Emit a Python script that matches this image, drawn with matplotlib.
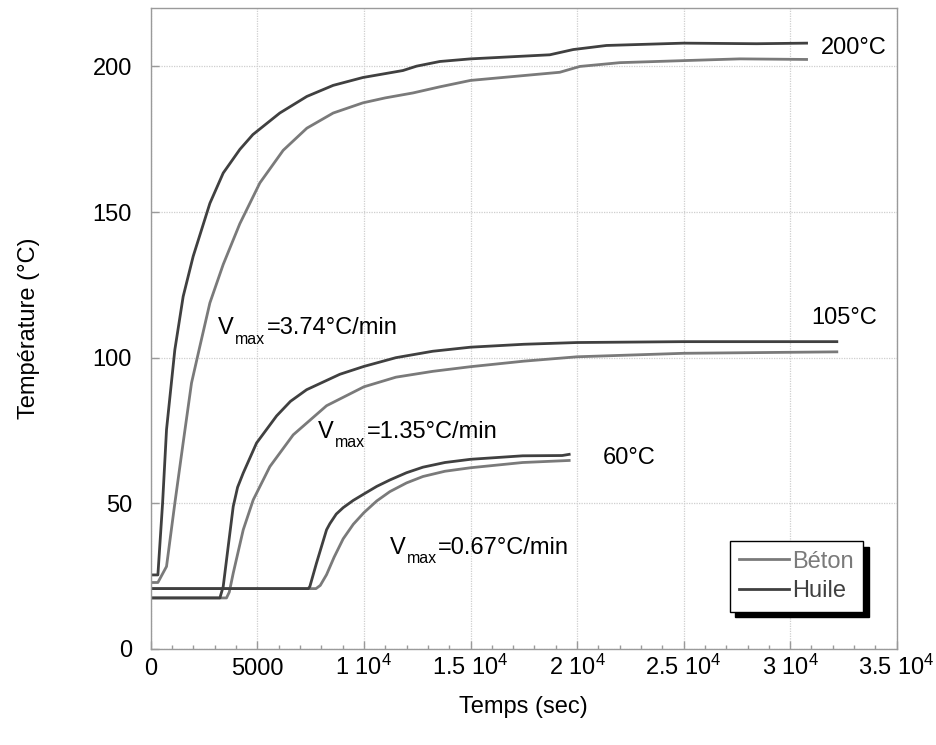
import matplotlib
matplotlib.use("Agg")
import matplotlib.pyplot as plt
from matplotlib.ticker import MultipleLocator, FixedLocator

plt.rcParams['font.family'] = ['Liberation Sans', 'DejaVu Sans']
plt.rcParams['mathtext.fontset'] = 'custom'
plt.rcParams['mathtext.rm'] = 'Liberation Sans'
plt.rcParams['mathtext.it'] = 'Liberation Sans'

# ---- data ----
t_200_huile = [0, 330, 550, 735, 1125, 1516, 1986, 2770, 3395, 4175, 4787, 6050, 7320,
               8555, 9950, 11830, 12470, 13560, 15000, 18720, 19820, 21380, 25000, 28420, 30770]
T_200_huile = [25.4, 25.4, 50, 75.3, 102.7, 121, 134.8, 153, 163.4, 171.5, 176.6, 184, 189.7,
               193.5, 196.2, 198.6, 200.1, 201.7, 202.6, 204, 205.8, 207.2, 208, 207.8, 208]
t_200_beton = [0, 330, 735, 1125, 1516, 1908, 2300, 2770, 3395, 4175, 5115, 6210, 7320,
               8555, 9950, 11000, 12300, 13560, 15000, 19190, 20130, 22010, 25000, 27640, 30770]
T_200_beton = [22.8, 22.8, 28.3, 50, 70.8, 91.3, 103.9, 118.8, 132, 146, 160, 171.2, 178.8,
               184, 187.5, 189.2, 190.9, 193, 195.2, 198, 200, 201.3, 202, 202.6, 202.4]

t_105_huile = [0, 3240, 3395, 3630, 3865, 4070, 4335, 4960, 5900, 6550, 7310, 8870, 10000,
               11500, 13225, 15000, 17500, 20000, 25000, 32190]
T_105_huile = [17.5, 17.5, 21.4, 35.2, 48.9, 55.5, 60.4, 70.7, 80, 85, 89, 94.3, 97,
               100, 102.2, 103.6, 104.6, 105.2, 105.5, 105.5]
t_105_beton = [0, 3550, 3680, 3865, 4335, 4805, 5585, 6680, 8245, 10000, 11500, 13225, 15000,
               17500, 20000, 25000, 32190]
T_105_beton = [17.5, 17.5, 19.5, 26, 40.9, 51.2, 62.6, 73.5, 83.5, 90, 93.3, 95.3, 96.9,
               98.8, 100.3, 101.5, 102]

t_60_huile = [0, 7385, 7460, 7770, 8245, 8400, 8700, 9025, 9500, 10000, 10600, 11215, 12000,
              12770, 13800, 15000, 17445, 19300, 19630]
T_60_huile = [20.7, 20.7, 21.4, 29.4, 40.9, 43, 46.3, 48.5, 51, 53.2, 55.8, 58, 60.5,
              62.4, 64, 65.1, 66.3, 66.4, 66.8]
t_60_beton = [0, 7750, 7950, 8245, 8600, 9025, 9500, 10000, 10600, 11215, 12000, 12770, 13800,
              15000, 17445, 19630]
T_60_beton = [20.7, 20.7, 21.8, 25.5, 31.5, 37.8, 42.8, 46.8, 50.8, 54, 57, 59.2, 61,
              62.2, 64, 64.7]

x_ticks = [0, 5000, 10000, 15000, 20000, 25000, 30000, 35000]
x_ticklabels = ['0', '5000', r'1 10$^{4}$', r'1.5 10$^{4}$', r'2 10$^{4}$',
                r'2.5 10$^{4}$', r'3 10$^{4}$', r'3.5 10$^{4}$']
y_ticks = [0, 50, 100, 150, 200]

labels_temp = ['200°C', '105°C', '60°C']
labels_temp_pos = [(31450, 206.5), (31000, 113.7), (21200, 65.6)]
labels_v_value = ['=3.74°C/min', '=1.35°C/min', '=0.67°C/min']
labels_v_pos = [(3150, 108), (7850, 72.5), (11200, 32.5)]

c_beton = '#7a7a7a'
c_huile = '#404040'
FS = 17

fig = plt.figure(figsize=(9.37, 7.45), dpi=100)
ax = fig.add_axes([0.161, 0.129, 0.796, 0.860])

lw = 2.0
ax.plot(t_200_beton, T_200_beton, color=c_beton, lw=lw, label='Béton')
ax.plot(t_105_beton, T_105_beton, color=c_beton, lw=lw)
ax.plot(t_60_beton, T_60_beton, color=c_beton, lw=lw)
ax.plot(t_200_huile, T_200_huile, color=c_huile, lw=lw, label='Huile')
ax.plot(t_105_huile, T_105_huile, color=c_huile, lw=lw)
ax.plot(t_60_huile, T_60_huile, color=c_huile, lw=lw)

ax.set_xlim(0, 35000)
ax.set_ylim(0, 220)
ax.xaxis.set_major_locator(FixedLocator(x_ticks))
ax.set_xticklabels(x_ticklabels)
ax.xaxis.set_minor_locator(MultipleLocator(1000))
ax.yaxis.set_major_locator(FixedLocator(y_ticks))

ax.grid(True, which='major', color='#cfcfcf', lw=0.9, ls=(0, (1, 1)))
ax.set_axisbelow(True)
for s in ax.spines.values():
    s.set_color('#9a9a9a')
    s.set_linewidth(1.0)
ax.tick_params(which='major', direction='in', length=6, color='#9a9a9a',
               labelsize=FS, width=1)
ax.tick_params(which='minor', direction='in', length=3, color='#9a9a9a', width=1)
ax.tick_params(axis='x', which='major', pad=19)
ax.tick_params(axis='y', which='major', pad=13.5)
for lab in ax.get_xticklabels():
    lab.set_va('baseline')

ax.set_xlabel('Temps (sec)', fontsize=FS)
ax.set_ylabel('Température (°C)', fontsize=FS)
ax.xaxis.set_label_coords(0.5, -0.073)
ax.yaxis.set_label_coords(-0.148, 0.5)

for s, (x, y) in zip(labels_temp, labels_temp_pos):
    ax.text(x, y, s, fontsize=FS, va='center', ha='left')

for s, (x, y) in zip(labels_v_value, labels_v_pos):
    tv = ax.text(x, y, 'V', fontsize=FS, va='baseline', ha='left')
    tm = ax.annotate('max', xy=(1, 0), xycoords=tv, xytext=(1, -3),
                     textcoords='offset points', fontsize=11.5, va='baseline', ha='left')
    ax.annotate(s, xy=(1, 0), xycoords=(tm, tv), xytext=(1, 0),
                textcoords='offset points', fontsize=FS, va='bottom', ha='left')

leg = ax.legend(loc='lower left', bbox_to_anchor=(0.776, 0.058), fontsize=FS,
                frameon=True, fancybox=False,
                shadow={'ox': 4, 'oy': -4, 'color': 'black', 'alpha': 1},
                labelcolor='linecolor', handlelength=2.1, borderpad=0.4,
                handletextpad=0.15, labelspacing=0.32, borderaxespad=0)
leg.get_frame().set_edgecolor('black')
leg.get_frame().set_linewidth(1.0)

fig.savefig('out.png', dpi=100)
